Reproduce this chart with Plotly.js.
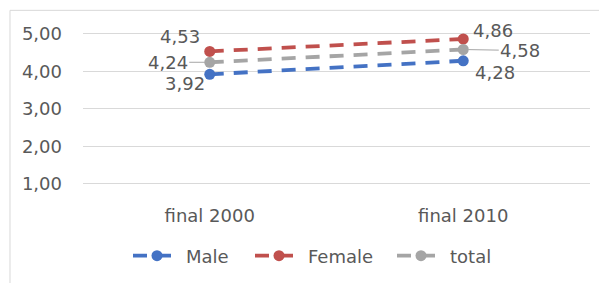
<!DOCTYPE html>
<html><head><meta charset="utf-8">
<script src="https://cdn.plot.ly/plotly-3.0.1.min.js"></script>
<style>html,body{margin:0;padding:0;background:#fff;}#c{width:599px;height:283px;}</style>
</head><body><div id="c"></div>
<script>
const categories = ['final 2000', 'final 2010'];
const seriesNames = ['Male', 'Female', 'total'];
const male = [3.92, 4.28];
const female = [4.53, 4.86];
const total = [4.24, 4.58];
const yTicks = [1, 2, 3, 4, 5];

const colors = ['#4472C4', '#C0504D', '#A5A5A5'];
const values = [male, female, total];
const fontFam = 'DejaVu Sans, sans-serif';
const txtColor = '#595959';
const fs = 18;
const legendNames = ['legend', 'legend2', 'legend3'];
const legendPx = [133, 255, 397];  // symbol left edge in pixels
const plotL = 83, plotW = 507, plotB = 203, plotH = 173;

const traces = values.map((v, i) => ({
  type: 'scatter', mode: 'lines+markers', name: seriesNames[i],
  x: categories, y: v, legend: legendNames[i],
  line: {color: colors[i], width: 3.8, dash: '14px,10px'},
  marker: {color: colors[i], size: 11, symbol: 'circle'},
  hoverinfo: 'skip'
}));

const fmt = v => v.toFixed(2).replace('.', ',');
// label placement per series per point: [dx, dy(px, down positive), leader]
const place = [
  [[-25, 9.5, false], [32, 11.5, false]],
  [[-30, -14.5, false], [30, -9, false]],
  [[-42, 0, true], [57, 1, true]]
];
const annotations = [];
values.forEach((v, i) => {
  v.forEach((val, j) => {
    const p = place[i][j];
    const a = {x: categories[j], y: val, xref: 'x', yref: 'y', text: fmt(val),
      font: {family: fontFam, size: fs, color: txtColor}};
    if (p[2]) {
      Object.assign(a, {showarrow: true, ax: p[0], ay: p[1], arrowhead: 0,
        arrowwidth: 1, arrowcolor: '#A6A6A6', standoff: 5});
    } else {
      Object.assign(a, {showarrow: false, xshift: p[0], yshift: -p[1]});
    }
    annotations.push(a);
  });
});

const layout = {
  width: 599, height: 283,
  margin: {l: 83, r: 9, t: 30, b: 80},
  paper_bgcolor: '#fff', plot_bgcolor: '#fff',
  separators: ',.',
  font: {family: fontFam, size: fs, color: txtColor},
  showlegend: true,
  xaxis: {type: 'category', range: [-0.5, 1.5], showgrid: false, zeroline: false,
    showline: false, ticks: '', ticklabelstandoff: 3,
    tickfont: {family: fontFam, size: fs, color: txtColor}, fixedrange: true},
  yaxis: {range: [0.57, 5.1], tickvals: yTicks, tickformat: '.2f', showgrid: true,
    gridcolor: '#D9D9D9', gridwidth: 1, zeroline: false, showline: false, ticks: '',
    ticklabelstandoff: 20, tickfont: {family: fontFam, size: fs, color: txtColor}, fixedrange: true},
  annotations: annotations,
  shapes: [{type: 'rect', xref: 'paper', yref: 'paper', x0: -0.144, x1: 1.3, y0: -0.6, y1: 1.1156,
    line: {color: '#D9D9D9', width: 1}, fillcolor: 'rgba(0,0,0,0)', layer: 'below'}]
};
legendNames.forEach((ln, i) => {
  layout[ln] = {orientation: 'h', x: (legendPx[i] - 5 - plotL) / plotW, xanchor: 'left',
    y: (plotB - 260) / plotH, yanchor: 'middle', itemwidth: 48,
    bgcolor: 'rgba(0,0,0,0)',
    font: {family: fontFam, size: fs, color: txtColor}};
});

Plotly.newPlot('c', traces, layout, {displayModeBar: false, staticPlot: true});
</script></body></html>
